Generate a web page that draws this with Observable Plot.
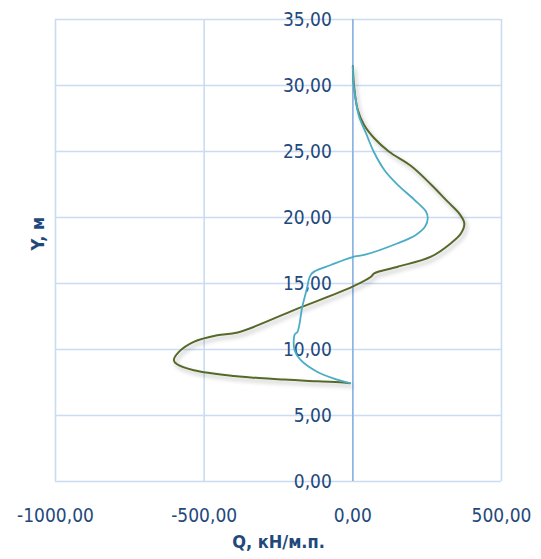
<!DOCTYPE html>
<html>
<head>
<meta charset="utf-8">
<script src="https://cdn.jsdelivr.net/npm/d3@7"></script>
<script src="https://cdn.jsdelivr.net/npm/@observablehq/plot@0.6"></script>
<style>
  html, body { margin: 0; padding: 0; background: #fff; }
</style>
</head>
<body>
<div id="chart"></div>
<script>
// Series 1 (cyan)
const q1X = [0, 3, 10, 21, 44, 70, 106, 151, 207, 246, 252, 243, 212, 151, 38, 4, -74, -130, -140, -148, -153, -170, -186, -195, -198, -196, -175, -119, -63, -10];
const q1Y = [31.4, 30, 28.9, 27.66, 26.4, 25, 23.6, 22.47, 21.34, 20.45, 19.95, 19.31, 18.68, 18.05, 17.16, 17.03, 16.4, 15.9, 15.7, 15.3, 14.76, 13.24, 11.34, 11.15, 10.9, 9.95, 9.19, 8.3, 7.8, 7.45];
// Series 2 (olive green)
const q2X = [0, 4, 16, 38, 72, 121, 196, 263, 319, 358, 375, 364, 330, 263, 151, 72, 61, -1, -190, -387, -456, -535, -585, -602, -591, -535, -400, -232, -119, -24, -10];
const q2Y = [31.45, 30, 28.2, 27.0, 26.0, 25.0, 23.9, 22.5, 21.2, 20.3, 19.56, 18.8, 18.05, 17.03, 16.27, 15.77, 15.51, 14.76, 13.06, 11.29, 11.08, 10.58, 9.82, 9.19, 8.88, 8.43, 8.0, 7.72, 7.59, 7.49, 7.45];

const xTicks = [-1000, -500, 0, 500];
const yTicks = [0, 5, 10, 15, 20, 25, 30, 35];
const xTitle = "Q, кН/м.п.";
const yTitle = "Y, м";

const fmt = v => (v < 0 ? "-" : "") + Math.abs(v).toFixed(2).replace(".", ",");

const s1 = q1X.map((x, i) => ({x, y: q1Y[i]}));
const s2 = q2X.map((x, i) => ({x, y: q2Y[i]}));

const font = "'Liberation Sans Narrow', 'DejaVu Sans Condensed', 'Liberation Sans', sans-serif";
const textColor = "#1f497d";
const gridColor = "#c9dcf2";

const chart = Plot.plot({
  width: 541,
  height: 559,
  marginTop: 19,
  marginBottom: 78,
  marginLeft: 55,
  marginRight: 40,
  style: {fontFamily: font, background: "#fff"},
  x: {domain: [-1000, 500]},
  y: {domain: [0, 35]},
  marks: [
    Plot.ruleX(xTicks, {stroke: gridColor, strokeWidth: 1.6}),
    Plot.ruleY(yTicks, {stroke: gridColor, strokeWidth: 1.6}),
    Plot.ruleX([0], {stroke: "#8db3e2", strokeWidth: 1.6}),
    Plot.text(yTicks, {x: 0, y: d => d, text: d => fmt(d), textAnchor: "end", dx: -21, fill: textColor, fontSize: 19}),
    Plot.axisX(xTicks, {tickSize: 0, tickPadding: 27, tickFormat: fmt, fontSize: 19, fill: textColor, label: null}),
    Plot.axisY({ticks: [], label: null, tickSize: 0}),
    Plot.line(s2, {x: "x", y: "y", stroke: "#56692a", strokeWidth: 2, curve: "catmull-rom"}),
    Plot.line(s1, {x: "x", y: "y", stroke: "#4bacc6", strokeWidth: 1.8, curve: "catmull-rom"}),
    Plot.text([xTitle], {frameAnchor: "bottom", dy: 66, text: d => d, fill: textColor, fontSize: 18, fontWeight: "bold"}),
    Plot.text([yTitle], {frameAnchor: "left", dx: -17, rotate: -90, text: d => d, fill: textColor, fontSize: 18, fontWeight: "bold"})
  ]
});

// soft drop shadow on the green line
const svg = d3.select(chart);
const defs = svg.insert("defs", ":first-child");
const f = defs.append("filter").attr("id", "shadow").attr("x", "-20%").attr("y", "-20%").attr("width", "140%").attr("height", "140%");
f.append("feDropShadow").attr("dx", 2).attr("dy", 3).attr("stdDeviation", 2.2).attr("flood-color", "#000").attr("flood-opacity", 0.28);
const lines = svg.selectAll("g[aria-label=line]");
d3.select(lines.nodes()[0]).attr("filter", "url(#shadow)");

document.getElementById("chart").appendChild(chart);
</script>
</body>
</html>
